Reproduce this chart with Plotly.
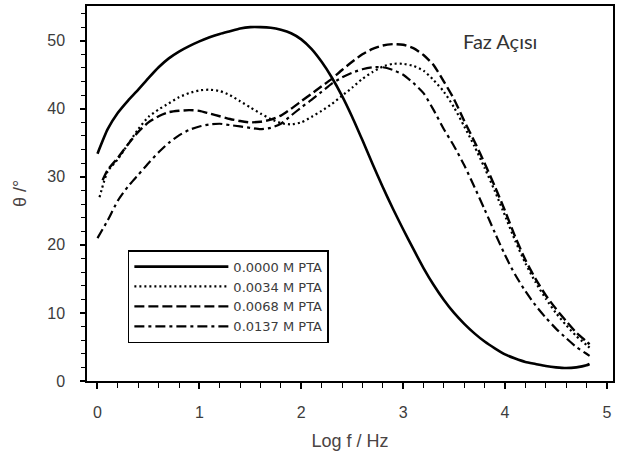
import plotly.graph_objects as go

# ---- data ----
logf_s = [0.0, 0.1, 0.2, 0.3, 0.4, 0.5, 0.6, 0.7, 0.8, 0.9, 1.0, 1.1, 1.2, 1.3, 1.4, 1.5, 1.6, 1.7, 1.8, 1.9,
          2.0, 2.1, 2.2, 2.3, 2.4, 2.5, 2.6, 2.7, 2.8, 2.9, 3.0, 3.1, 3.2, 3.3, 3.4, 3.5, 3.6, 3.7, 3.8, 3.9,
          4.0, 4.1, 4.2, 4.3, 4.4, 4.5, 4.6, 4.7, 4.8, 4.83]
theta_0000 = [33.4, 37.0, 39.4, 41.2, 42.8, 44.5, 46.1, 47.4, 48.4, 49.2, 49.9, 50.5, 51.0, 51.4, 51.8, 52.0, 52.0,
              51.9, 51.6, 51.1, 50.2, 48.8, 46.9, 44.6, 41.9, 38.8, 35.4, 31.9, 28.5, 25.3, 22.3, 19.4, 16.6,
              14.1, 11.9, 10.0, 8.4, 7.0, 5.8, 4.8, 3.9, 3.3, 2.8, 2.5, 2.2, 2.0, 1.9, 2.0, 2.3, 2.5]

logf_1 = [0.02, 0.1, 0.2, 0.3, 0.4, 0.5, 0.6, 0.7, 0.8, 0.9, 1.0, 1.1, 1.2, 1.3, 1.4, 1.5, 1.6, 1.7, 1.8, 1.9,
          2.0, 2.1, 2.2, 2.3, 2.4, 2.5, 2.6, 2.7, 2.8, 2.9, 3.0, 3.1, 3.2, 3.3, 3.4, 3.5, 3.6, 3.7, 3.8, 3.9,
          4.0, 4.1, 4.2, 4.3, 4.4, 4.5, 4.6, 4.7, 4.8, 4.83]
theta_0034 = [27.0, 30.8, 32.6, 34.8, 37.0, 38.8, 39.9, 40.8, 41.7, 42.3, 42.7, 42.8, 42.6, 42.0, 41.1, 40.2, 39.3,
              38.5, 37.9, 37.7, 38.0, 38.8, 39.7, 40.7, 41.9, 43.1, 44.4, 45.4, 46.2, 46.6, 46.6, 46.3, 45.6,
              44.2, 42.5, 40.2, 37.4, 34.5, 31.3, 27.9, 24.3, 20.6, 17.3, 14.5, 12.1, 10.0, 8.2, 6.6, 5.3, 4.9]

logf_2 = [0.05, 0.1, 0.2, 0.3, 0.4, 0.5, 0.6, 0.7, 0.8, 0.9, 1.0, 1.1, 1.2, 1.3, 1.4, 1.5, 1.6, 1.7, 1.8, 1.9,
          2.0, 2.1, 2.2, 2.3, 2.4, 2.5, 2.6, 2.7, 2.8, 2.9, 3.0, 3.1, 3.2, 3.3, 3.4, 3.5, 3.6, 3.7, 3.8, 3.9,
          4.0, 4.1, 4.2, 4.3, 4.4, 4.5, 4.6, 4.7, 4.8, 4.83]
theta_0068 = [29.5, 31.0, 32.8, 34.8, 36.6, 38.0, 38.9, 39.5, 39.7, 39.8, 39.7, 39.3, 38.9, 38.5, 38.2, 38.0, 38.1,
              38.4, 39.0, 40.0, 41.1, 42.2, 43.3, 44.4, 45.7, 46.9, 48.0, 48.8, 49.3, 49.5, 49.4, 48.9, 47.9,
              46.4, 44.0, 41.4, 38.2, 35.2, 32.0, 28.6, 25.0, 21.2, 17.8, 15.0, 12.6, 10.6, 8.8, 7.1, 5.8, 5.4]

logf_3 = [0.0, 0.1, 0.2, 0.3, 0.4, 0.5, 0.6, 0.7, 0.8, 0.9, 1.0, 1.1, 1.2, 1.3, 1.4, 1.5, 1.6, 1.7, 1.8, 1.9,
          2.0, 2.1, 2.2, 2.3, 2.4, 2.5, 2.6, 2.7, 2.8, 2.9, 3.0, 3.1, 3.2, 3.3, 3.4, 3.5, 3.6, 3.7, 3.8, 3.9,
          4.0, 4.1, 4.2, 4.3, 4.4, 4.5, 4.6, 4.7, 4.8, 4.83]
theta_0137 = [21.0, 23.6, 26.5, 28.6, 30.3, 32.0, 33.6, 35.0, 36.1, 36.9, 37.4, 37.7, 37.8, 37.6, 37.4, 37.2, 37.0,
              37.2, 37.8, 39.0, 40.2, 41.3, 42.5, 43.7, 44.6, 45.3, 45.8, 46.1, 46.1, 45.7, 45.0, 43.8, 42.3,
              39.8, 37.0, 34.5, 31.7, 28.5, 25.2, 21.8, 18.5, 15.6, 13.2, 11.1, 9.3, 7.7, 6.3, 5.0, 4.0, 3.7]

series_names = ["0.0000 M PTA", "0.0034 M PTA", "0.0068 M PTA", "0.0137 M PTA"]
x_ticks = [0, 1, 2, 3, 4, 5]
y_ticks = [0, 10, 20, 30, 40, 50]

# ---- figure ----
FONT = "Liberation Sans, Arial, sans-serif"
TXT = "#3c3c3c"

fig = go.Figure()
styles = [
    dict(width=2.6, dash="solid"),
    dict(width=2.2, dash="2px,3px"),
    dict(width=2.4, dash="10px,4px"),
    dict(width=2.2, dash="10px,4px,3px,4px"),
]
for xs, ys, name, st in zip([logf_s, logf_1, logf_2, logf_3],
                            [theta_0000, theta_0034, theta_0068, theta_0137],
                            series_names, styles):
    fig.add_trace(go.Scatter(x=xs, y=ys, name=name, mode="lines",
                             line=dict(color="black", width=st["width"], dash=st["dash"],
                                       shape="spline", smoothing=0.6)))

fig.add_annotation(x=3.95, y=50.0, xref="x", yref="y", text="Faz Açısı", showarrow=False,
                   font=dict(family="Lato, Open Sans, sans-serif", size=20, color="#333333"))

fig.update_layout(
    width=619, height=461,
    margin=dict(l=87, r=4, t=6, b=80),
    paper_bgcolor="white", plot_bgcolor="white",
    font=dict(family=FONT, color=TXT),
    showlegend=True,
    legend=dict(x=0.0777, y=0.349, xanchor="left", yanchor="top",
                bordercolor="black", borderwidth=1.5, bgcolor="white",
                font=dict(family="DejaVu Sans, Verdana, sans-serif", size=13, color=TXT),
                itemwidth=94, tracegroupgap=0),
    xaxis=dict(range=[-0.103, 5.06], tickvals=x_ticks, ticktext=[str(v) for v in x_ticks],
               showgrid=False, zeroline=False, showline=True, linecolor="black", linewidth=1.5,
               mirror=True, ticks="outside", ticklen=6, tickwidth=1.5, tickcolor="black",
               minor=dict(dtick=0.2, ticks="outside", ticklen=5, tickwidth=1.2, tickcolor="black"),
               tickfont=dict(family=FONT, size=16, color=TXT), ticklabelstandoff=10,
               title=dict(text="Log f / Hz", font=dict(family=FONT, size=18, color="#4a4444"), standoff=14)),
    yaxis=dict(range=[0, 55.1], tickvals=y_ticks, ticktext=[str(v) for v in y_ticks],
               showgrid=False, zeroline=False, showline=True, linecolor="black", linewidth=1.5,
               mirror=True, ticks="outside", ticklen=5, tickwidth=1.5, tickcolor="black",
               minor=dict(dtick=2, ticks="outside", ticklen=4, tickwidth=1.2, tickcolor="black"),
               tickfont=dict(family=FONT, size=16, color=TXT), ticklabelstandoff=12,
               title=dict(text="θ /°", font=dict(family=FONT, size=18, color="#4a4444"), standoff=16)),
)

fig.write_html("out.html")
